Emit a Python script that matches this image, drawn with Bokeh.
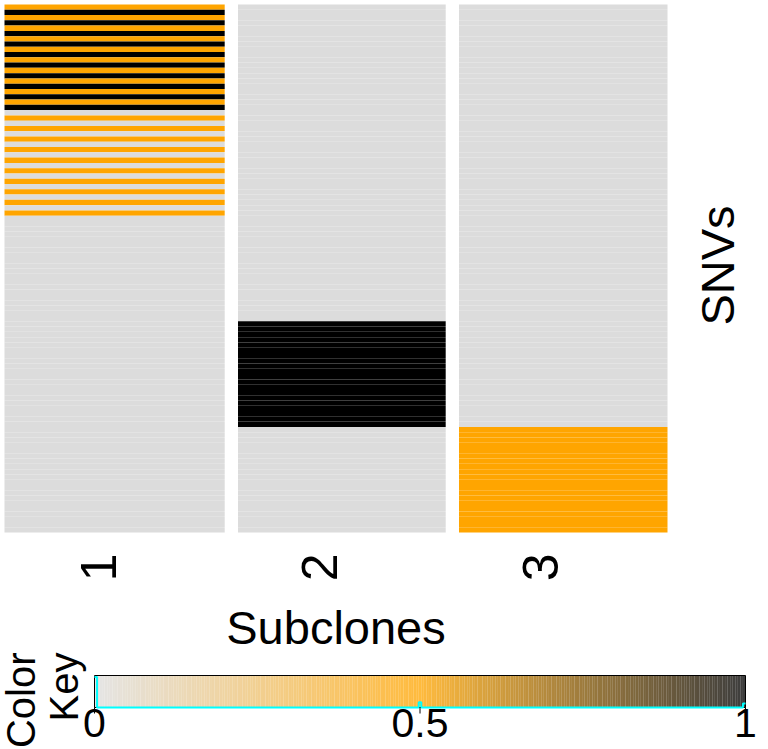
import numpy as np
from bokeh.plotting import figure
from bokeh.models import ColumnDataSource, LinearColorMapper, Range1d
from bokeh.transform import transform
from bokeh.core.properties import value
from bokeh.embed import file_html
from bokeh.resources import INLINE

# ---- data -----------------------------------------------------------------
subclones = ["1", "2", "3"]

# genotype of every SNV (rows, top to bottom) in each subclone:
# 0 = absent, 0.5 = heterozygous, 1 = homozygous
clone_1 = ([0.5, 1.0, 0.5, 1.0, 0.5, 1.0, 0.5, 1.0, 0.5, 1.0,
            0.5, 1.0, 0.5, 1.0, 0.5, 1.0, 0.5, 1.0, 0.5, 1.0,
            0.0, 0.5, 0.0, 0.5, 0.0, 0.5, 0.0, 0.5, 0.0, 0.5,
            0.0, 0.5, 0.0, 0.5, 0.0, 0.5, 0.0, 0.5, 0.0, 0.5]
           + [0.0] * 60)
clone_2 = [0.0] * 60 + [1.0] * 20 + [0.0] * 20
clone_3 = [0.0] * 80 + [0.5] * 20

key_ticks = [0, 0.5, 1]
key_tick_labels = ["0", "0.5", "1"]
key_title = ["Color", "Key"]

FONT = value("Liberation Sans")

# ---- colour ramp gainsboro -> orange -> black -------------------------------
def ramp(stops, n):
    rgb = np.array([[int(c[i:i + 2], 16) for i in (1, 3, 5)] for c in stops], float)
    t = np.linspace(0, 1, n)
    pos = np.linspace(0, 1, len(stops))
    cols = np.column_stack([np.interp(t, pos, rgb[:, k]) for k in range(3)])
    return ["#%02x%02x%02x" % tuple(int(round(v)) for v in row) for row in cols]

palette = ramp(["#dcdcdc", "#ffa500", "#000000"], 255)
mapper = LinearColorMapper(palette=palette, low=0, high=1)

# ---- long-form table of the matrix ----------------------------------------
columns = [clone_1, clone_2, clone_3]
n_snv = len(clone_1)
xs, ys, vs = [], [], []
for ci, col in enumerate(columns):
    for ri, v in enumerate(col):
        xs.append(ci + 1)
        ys.append(ri + 1)
        vs.append(v)
cells = ColumnDataSource(dict(x=xs, y=ys, v=vs))

# ---- canvas geometry (pixels) ---------------------------------------------
W, H = 768, 749
HM_L, HM_R, HM_T, HM_B = 4, 667, 4, 532          # heatmap frame
KEY_L, KEY_R, KEY_T, KEY_B = 94, 745, 675, 707   # colour key bar

ux = (HM_R - HM_L) / len(subclones)
uy = (HM_B - HM_T) / n_snv
x_range = Range1d(0.5 - HM_L / ux, len(subclones) + 0.5 + (W - HM_R) / ux)
y_range = Range1d(n_snv + 0.5 + (H - HM_B) / uy, 0.5 - HM_T / uy)

kx = KEY_R - KEY_L
ky = KEY_B - KEY_T

p = figure(width=W, height=H, x_range=x_range, y_range=y_range,
           min_border=0, toolbar_location=None, output_backend="svg",
           x_axis_location=None, y_axis_location=None,
           outline_line_color=None, background_fill_color="white")
p.grid.visible = False
p.extra_x_ranges = {"key": Range1d(-KEY_L / kx, 1 + (W - KEY_R) / kx)}
p.extra_y_ranges = {"key": Range1d(-(H - KEY_B) / ky, 1 + KEY_T / ky)}

# ---- heatmap ----------------------------------------------------------------
p.rect(x="x", y="y", width=1, height=1, source=cells,
       fill_color=transform("v", mapper), line_color=None)

# white separators between subclone columns
seps = [i + 0.5 for i in range(1, len(subclones))]
p.quad(left=[s - 0.8 / ux for s in seps], right=[s + 12.5 / ux for s in seps],
       top=0.5 - 0.5 / uy, bottom=n_snv + 0.5 + 0.5 / uy,
       fill_color="white", line_color=None)

# column labels
p.text(x=list(range(1, len(subclones) + 1)), y=[n_snv + 0.5] * len(subclones),
       text=subclones, angle=np.pi / 2, text_align="right",
       text_baseline="alphabetic", x_offset=-17, y_offset=21,
       text_font=FONT, text_font_size="50px", text_color="black")

p.text(x=[(len(subclones) + 1) / 2], y=[n_snv + 0.5], text=["Subclones"],
       text_align="center", text_baseline="alphabetic", y_offset=95,
       text_font=FONT, text_font_size="47px", text_color="black")

p.text(x=[len(subclones) + 0.5], y=[(n_snv + 1) / 2], text=["SNVs"],
       angle=np.pi / 2, text_align="center", text_baseline="alphabetic",
       x_offset=50, y_offset=-3,
       text_font=FONT, text_font_size="47px", text_color="black")

# ---- colour key ---------------------------------------------------------------
n_col = len(palette)
edges = np.linspace(0, 1, n_col + 1)
p.quad(left=edges[:-1], right=edges[1:], bottom=0, top=1,
       fill_color=palette, fill_alpha=0.76, line_color=None,
       x_range_name="key", y_range_name="key")
p.quad(left=[0], right=[1], bottom=[0], top=[1], fill_color=None,
       line_color="black", line_width=1,
       x_range_name="key", y_range_name="key")

# histogram of the matrix values drawn over the key
counts, _ = np.histogram(np.array(vs), bins=edges)
hy = np.append(counts, counts[-1]) / counts.max() * 0.95
p.step(x=edges, y=hy, mode="after", line_color="cyan", line_width=2,
       x_range_name="key", y_range_name="key")

p.ray(x=key_ticks, y=[0] * len(key_ticks), length=6, length_units="screen",
      angle=-np.pi / 2, line_color="black", line_width=1,
      x_range_name="key", y_range_name="key")
p.text(x=key_ticks, y=[0] * len(key_ticks), text=key_tick_labels,
       text_align="center", text_baseline="alphabetic", y_offset=15,
       text_font=FONT, text_font_size="41px", text_color="black",
       x_range_name="key", y_range_name="key")

p.text(x=[0, 0], y=[1, 1], text=key_title, angle=np.pi / 2,
       text_align="right", text_baseline="alphabetic",
       x_offset=[-74, -31], y_offset=-23,
       text_font=FONT, text_font_size="40px", text_color="black",
       x_range_name="key", y_range_name="key")

open("out.html", "w").write(file_html(p, INLINE))
